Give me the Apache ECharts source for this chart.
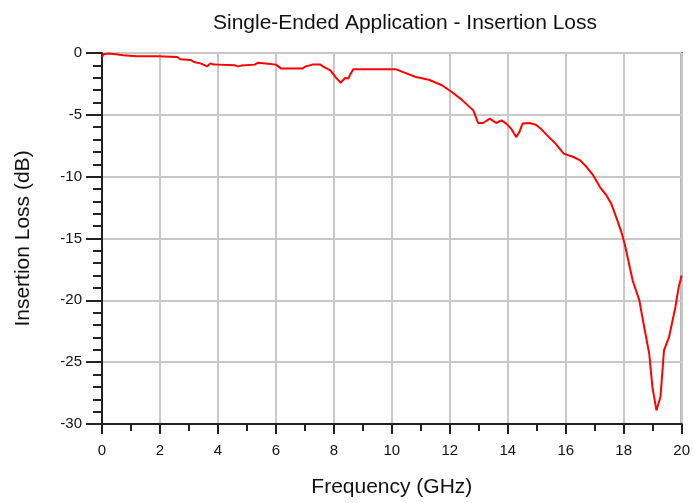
<!DOCTYPE html>
<html>
<head>
<meta charset="utf-8">
<title>Single-Ended Application - Insertion Loss</title>
<script src="https://cdn.jsdelivr.net/npm/echarts@6/dist/echarts.min.js"></script>
<style>
  html, body { margin: 0; padding: 0; background: #fff; }
  #chart { width: 693px; height: 503px; }
</style>
</head>
<body>
<div id="chart"></div>
<script>
// frequency points (GHz)
var freq = [0, 0.05, 0.22, 0.48, 0.73, 1.2, 1.93, 2.6, 2.7, 3.06, 3.17, 3.4, 3.63, 3.74, 3.85, 3.95,
  4.59, 4.7, 4.8, 5.27, 5.38, 5.72, 6.0, 6.18, 6.91, 7.03, 7.26, 7.54, 7.65, 7.88, 8.1, 8.24, 8.39,
  8.5, 8.58, 8.67, 10.15, 10.37, 10.83, 11.28, 11.73, 12.07, 12.41, 12.81, 12.98, 13.15, 13.38, 13.6,
  13.78, 13.95, 14.12, 14.29, 14.4, 14.51, 14.74, 14.97, 15.14, 15.36, 15.65, 15.93, 16.27, 16.5,
  16.72, 16.95, 17.18, 17.4, 17.57, 17.74, 17.91, 18.03, 18.31, 18.54, 18.71, 18.88, 18.99, 19.13,
  19.27, 19.39, 19.56, 19.78, 19.9, 20.0];
// insertion loss (dB)
var loss = [-0.32, -0.1, -0.05, -0.1, -0.19, -0.27, -0.27, -0.32, -0.5, -0.56, -0.73, -0.84, -1.08, -0.84, -0.94, -0.94,
  -1.0, -1.08, -1.02, -0.94, -0.78, -0.86, -0.94, -1.26, -1.26, -1.08, -0.94, -0.94, -1.13, -1.4, -2.07, -2.4, -2.02,
  -2.07, -1.67, -1.32, -1.32, -1.53, -1.94, -2.16, -2.61, -3.15, -3.77, -4.64, -5.66, -5.66, -5.31, -5.66,
  -5.45, -5.71, -6.12, -6.8, -6.39, -5.71, -5.66, -5.8, -6.12, -6.66, -7.33, -8.14, -8.41, -8.68,
  -9.22, -9.9, -10.84, -11.5, -12.18, -13.27, -14.4, -15.4, -18.4, -20.0, -22.2, -24.3, -27.0, -28.9,
  -27.8, -24.05, -23.0, -20.6, -18.9, -18.0];

var points = [];
for (var i = 0; i < freq.length; i++) {
  points.push([freq[i], loss[i]]);
}

var font = 'Liberation Sans, Arial, sans-serif';
var myChart = echarts.init(document.getElementById('chart'));
var option = {
  animation: false,
  backgroundColor: '#fff',
  title: {
    text: 'Single-Ended Application - Insertion Loss',
    left: 400,
    top: 8,
    textAlign: 'center',
    textStyle: { fontFamily: font, fontSize: 21, fontWeight: 'normal', color: '#111' }
  },
  grid: {
    left: 102, right: 6, top: 53, bottom: 79,
    show: true, borderColor: '#333', borderWidth: 2, backgroundColor: 'transparent'
  },
  xAxis: {
    type: 'value',
    min: 0, max: 20, interval: 2,
    name: 'Frequency (GHz)',
    nameLocation: 'middle',
    nameGap: 53,
    nameTextStyle: { fontFamily: font, fontSize: 21, color: '#111' },
    axisLine: { onZero: false, lineStyle: { color: '#222', width: 2 } },
    axisTick: { length: 10, lineStyle: { color: '#222', width: 2 } },
    minorTick: { show: true, splitNumber: 2, length: 7, lineStyle: { color: '#222', width: 2 } },
    axisLabel: { margin: 19, fontFamily: font, fontSize: 15, color: '#111' },
    splitLine: { show: true, lineStyle: { color: '#c8c8c8', width: 2 } }
  },
  yAxis: {
    type: 'value',
    min: -30, max: 0, interval: 5,
    name: 'Insertion Loss (dB)',
    nameLocation: 'middle',
    nameGap: 68,
    nameTextStyle: { fontFamily: font, fontSize: 21, color: '#111' },
    axisLine: { onZero: false, lineStyle: { color: '#222', width: 2 } },
    axisTick: { length: 16, lineStyle: { color: '#222', width: 2 } },
    minorTick: { show: true, splitNumber: 5, length: 9, lineStyle: { color: '#222', width: 2 } },
    axisLabel: { margin: 20, fontFamily: font, fontSize: 15, color: '#111' },
    splitLine: { show: true, lineStyle: { color: '#c8c8c8', width: 2 } }
  },
  series: [{
    type: 'line',
    data: points,
    showSymbol: false,
    smooth: false,
    lineStyle: { color: '#ff0000', width: 2 },
    z: 3
  }]
};
myChart.setOption(option);
</script>
</body>
</html>
